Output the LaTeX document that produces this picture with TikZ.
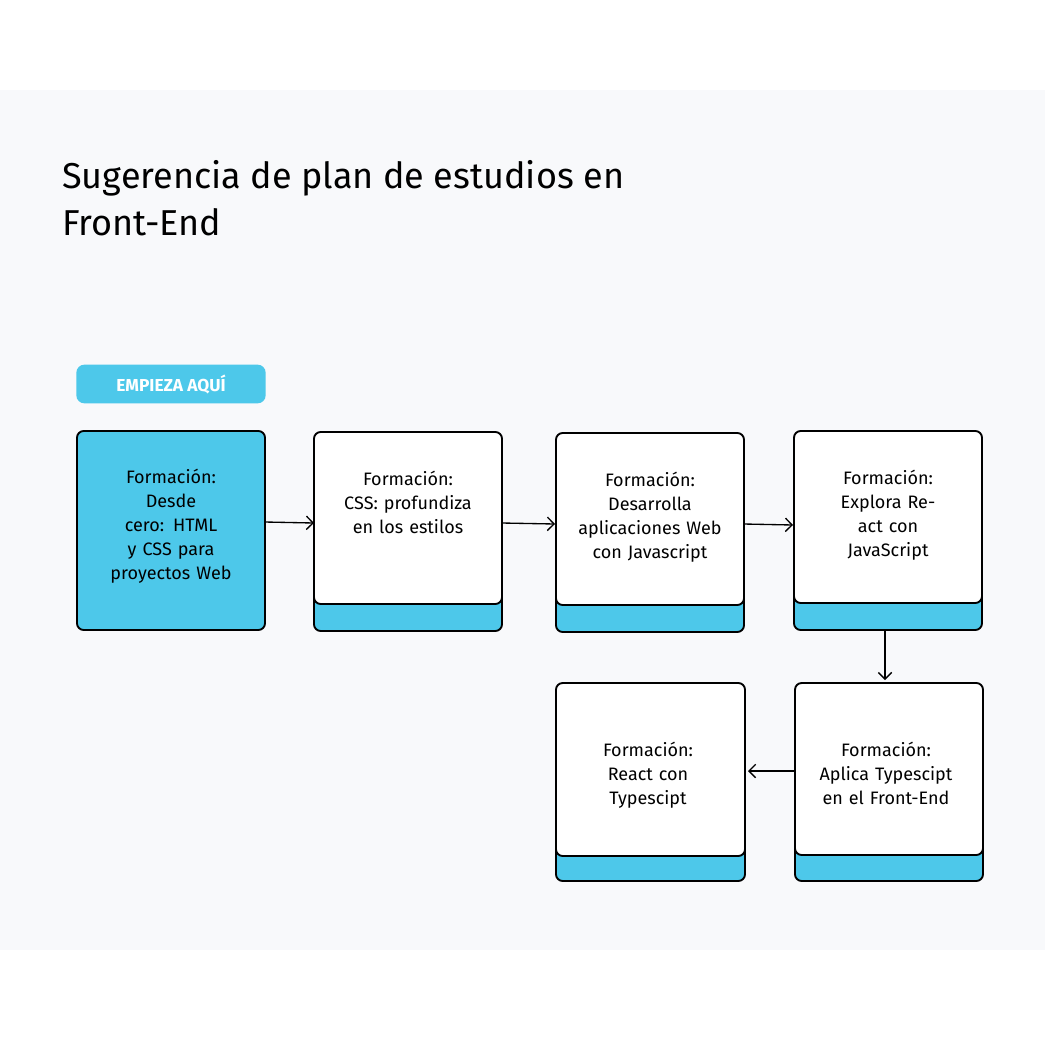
\documentclass[tikz,border=0pt]{standalone}
\usepackage{fontspec}
\setmainfont{Fira Sans}
\usetikzlibrary{arrows.meta}
\definecolor{cielo}{HTML}{4DC8EA}
\definecolor{fondo}{HTML}{F8F9FB}
\tikzset{
    base/.style={draw=black, line width=1.4pt, rounded corners=5pt, fill=cielo},
    tarjeta/.style={draw=black, line width=1.4pt, rounded corners=5pt, fill=white},
    texto/.style={anchor=north, align=center, font=\fontsize{13.5}{18}\selectfont, text width=110pt},
    flecha/.style={-{Straight Barb[length=5pt]}, line width=1pt}
}
\begin{document}
\begin{tikzpicture}[x=0.75pt, y=-0.75pt]
    \useasboundingbox (0,0) rectangle (1045,1036);
    \fill[fondo] (0,90) rectangle (1045,950);
    \node[anchor=north west, align=left, font=\fontsize{27}{35}\selectfont, inner sep=0] (titulo) at (62,160)
        {Sugerencia de plan de estudios en\\Front-End};
    % badge
    \node[fill=cielo, rounded corners=6pt, minimum width=142pt, minimum height=29pt, text=white,
        font=\bfseries\fontsize{13}{16}\selectfont] (inicio) at (171,384) {EMPIEZA AQUÍ};
    % tarjetas
    \draw[base] (77,431) rectangle (265,630);
    \node[texto] (f1) at (171,464) {Formación:\\Desde cero: HTML\\y CSS para\\proyectos Web};
    \draw[base] (314,560) rectangle (502,631);
    \draw[tarjeta] (314,432) rectangle (502,604);
    \node[texto] (f2) at (408,466) {Formación:\\CSS: profundiza\\en los estilos};
    \draw[base] (556,560) rectangle (744,632);
    \draw[tarjeta] (556,433) rectangle (744,605);
    \node[texto] (f3) at (650,467) {Formación:\\Desarrolla\\aplicaciones Web\\con Javascript};
    \draw[base] (794,560) rectangle (982,630);
    \draw[tarjeta] (794,431) rectangle (982,603);
    \node[texto] (f4) at (888,465) {Formación:\\Explora React con\\JavaScript};
    \draw[base] (795,810) rectangle (983,881);
    \draw[tarjeta] (795,683) rectangle (983,855);
    \node[texto] (f5) at (886,737) {Formación:\\Aplica Typescipt\\en el Front-End};
    \draw[base] (556,810) rectangle (745,881);
    \draw[tarjeta] (556,683) rectangle (745,856);
    \node[texto] (f6) at (648,737) {Formación:\\React con\\Typescipt};
    % conectores
    \coordinate (a1) at (265,522); \coordinate (b1) at (314,523);
    \coordinate (a2) at (502,523); \coordinate (b2) at (555,524);
    \coordinate (a3) at (744,524); \coordinate (b3) at (793,525);
    \coordinate (a4) at (885,631); \coordinate (b4) at (885,680);
    \coordinate (a5) at (795,771); \coordinate (b5) at (748,771);
    \foreach \i in {1,...,5}
        \draw[flecha] (a\i) -- (b\i);
\end{tikzpicture}
\end{document}
